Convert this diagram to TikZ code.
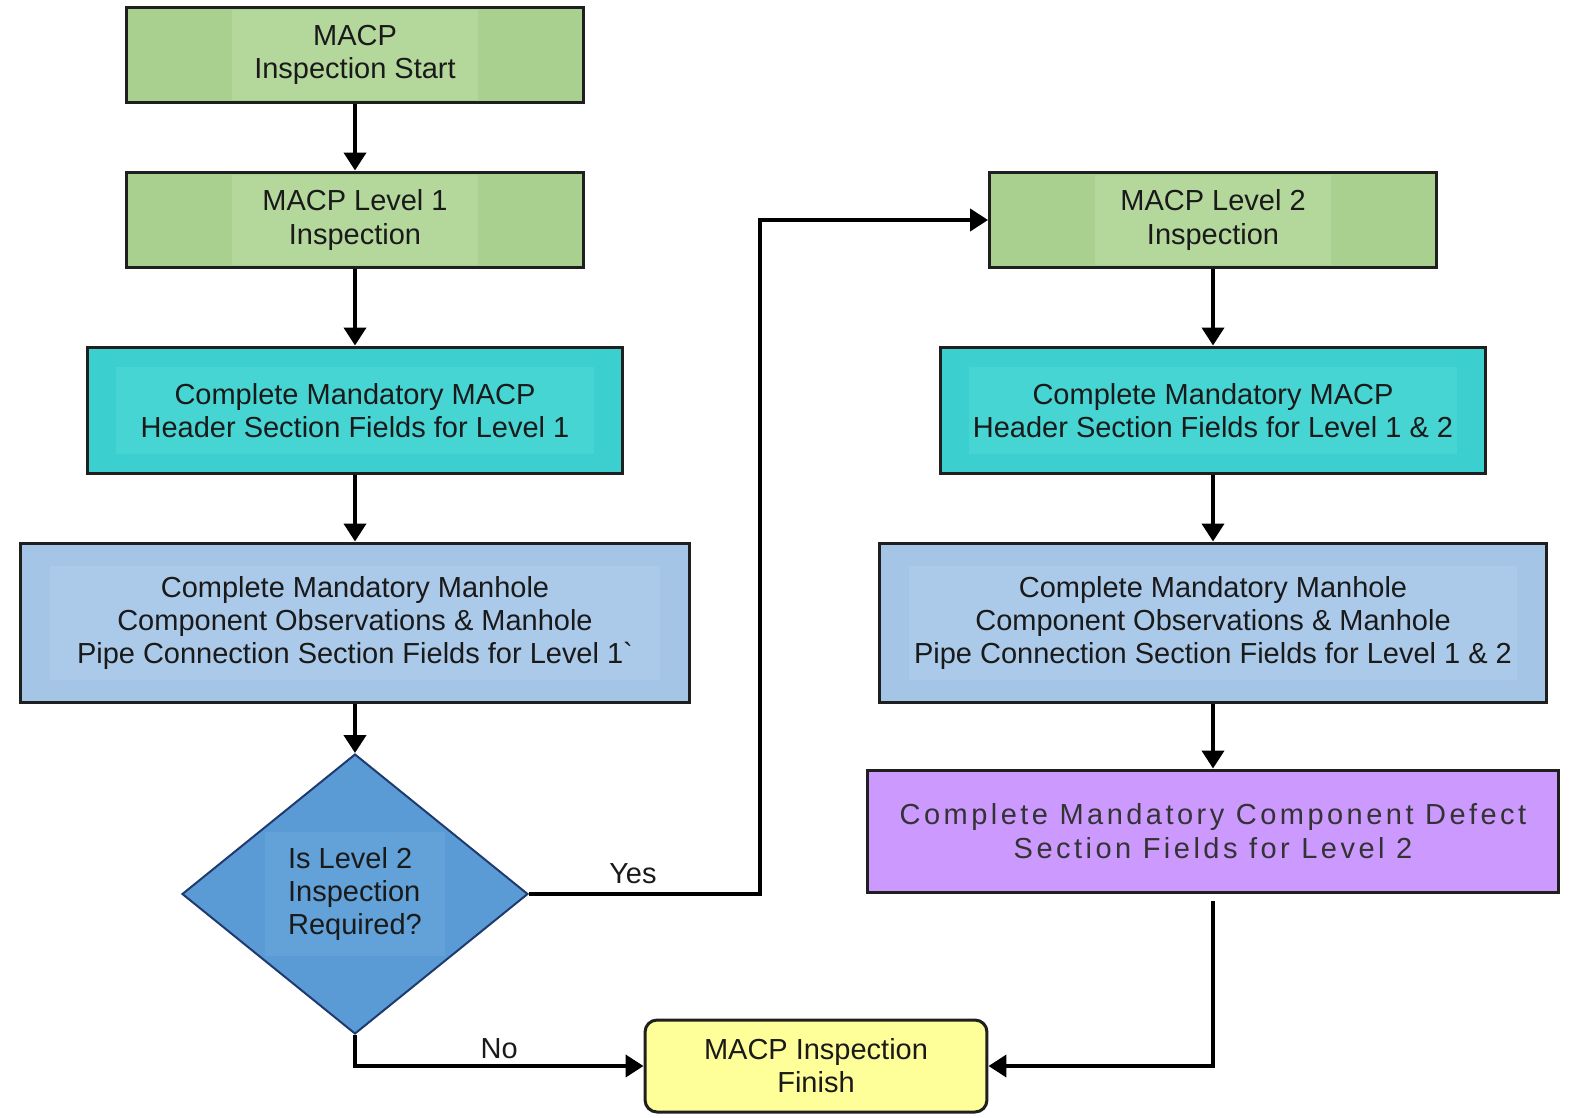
\documentclass[tikz,border=0pt]{standalone}
\usepackage{fontspec}
\setmainfont{Liberation Sans}
\newfontfamily\spacedfont[LetterSpace=12]{Liberation Sans}
\usepackage{xcolor}
\usetikzlibrary{arrows.meta, shapes.geometric}

\definecolor{stepgreen}{HTML}{A9D08E}
\definecolor{stepgreenlt}{HTML}{B4D89C}
\definecolor{headerteal}{HTML}{3CCFCF}
\definecolor{headertealLt}{HTML}{46D5D3}
\definecolor{fieldblue}{HTML}{A4C5E6}
\definecolor{fieldbluelt}{HTML}{ABCAEA}
\definecolor{decideblue}{HTML}{5A9AD5}
\definecolor{decidebluelt}{HTML}{62A2D8}
\definecolor{decideedge}{HTML}{1F3A6E}
\definecolor{defectpurple}{HTML}{CC99FF}
\definecolor{finishyellow}{HTML}{FFFF99}
\definecolor{inktext}{HTML}{1A1A1A}

\begin{document}
\begin{tikzpicture}[
  x=0.02cm, y=-0.02cm,
  inlay/.style n args={3}{path picture={\fill[#1] ([xshift=#2, yshift=-#3]path picture bounding box.north west) rectangle ([xshift=-#2, yshift=#3]path picture bounding box.south east);}},
  box/.style={rectangle, draw=black!88, line width=0.06cm, align=center, text=inktext, inner sep=0pt, font=\fontsize{16.5}{18.8}\selectfont},
  greenbox/.style={box, fill=stepgreen, inlay={stepgreenlt}{2.1cm}{0.06cm}, minimum width=9.14cm, minimum height=1.92cm},
  tealbox/.style={box, fill=headerteal, inlay={headertealLt}{0.56cm}{0.4cm}, minimum height=2.54cm},
  bluebox/.style={box, fill=fieldblue, inlay={fieldbluelt}{0.6cm}{0.45cm}, minimum height=3.2cm},
  decision/.style={diamond, draw=decideedge, line width=0.04cm, fill=decideblue, inlay={decidebluelt}{1.65cm}{1.55cm}, minimum width=6.92cm, minimum height=5.6cm, inner sep=0pt, align=left, text=inktext, font=\fontsize{16.5}{18.8}\selectfont},
  defectbox/.style={box, fill=defectpurple, minimum width=13.84cm, minimum height=2.46cm, text=black!80, font=\fontsize{16.5}{19.4}\spacedfont},
  finishbox/.style={box, fill=finishyellow, rounded corners=0.24cm, minimum width=6.84cm, minimum height=1.84cm},
  flow/.style={-{Triangle[length=0.36cm, width=0.44cm]}, line width=0.08cm, black},
  lbl/.style={text=inktext, font=\fontsize{16.5}{18}\selectfont, inner sep=0pt}
]
\useasboundingbox (0,0) rectangle (1574,1118);

% left column
\node[greenbox] (start) at (355,55) {MACP\\Inspection Start};
\node[greenbox] (lvl1) at (355,220) {MACP Level 1\\Inspection};
\node[tealbox, minimum width=10.7cm] (hdr1) at (355,410.5) {Complete Mandatory MACP\\Header Section Fields for Level 1};
\node[bluebox, minimum width=13.4cm] (obs1) at (355,623) {Complete Mandatory Manhole\\Component Observations \& Manhole\\Pipe Connection Section Fields for Level 1\textasciigrave};
\node[decision] (needlvl2) at (355,894) {Is Level 2\\Inspection\\Required?};

% right column
\node[greenbox, minimum width=8.94cm] (lvl2) at (1213,220) {MACP Level 2\\Inspection};
\node[tealbox, minimum width=10.9cm] (hdr2) at (1213,410.5) {Complete Mandatory MACP\\Header Section Fields for Level 1 \& 2};
\node[bluebox, minimum width=13.36cm] (obs2) at (1213,623) {Complete Mandatory Manhole\\Component Observations \& Manhole\\Pipe Connection Section Fields for Level 1 \& 2};
\node[defectbox] (defect) at (1213,831.5) {Complete Mandatory Component Defect\\Section Fields for Level 2};

\node[finishbox] (finish) at (816,1066) {MACP Inspection\\Finish};

\coordinate (yesbend) at (760,894);

\draw[flow] (start) -- (lvl1);
\draw[flow] (lvl1) -- (hdr1);
\draw[flow] (hdr1) -- (obs1);
\draw[flow] (obs1) -- (needlvl2);
\draw[flow] (lvl2) -- (hdr2);
\draw[flow] (hdr2) -- (obs2);
\draw[flow] (obs2) -- (defect);

\draw[flow] (needlvl2.east) -- node[lbl, above=0.16cm, pos=0.45] {Yes} (yesbend) |- (lvl2.west);
\draw[flow] (needlvl2.south) |- node[lbl, above=0.1cm, pos=0.75] {No} (finish.west);
\draw[flow, shorten <=0.14cm] (defect.south) |- (finish.east);
\end{tikzpicture}
\end{document}
